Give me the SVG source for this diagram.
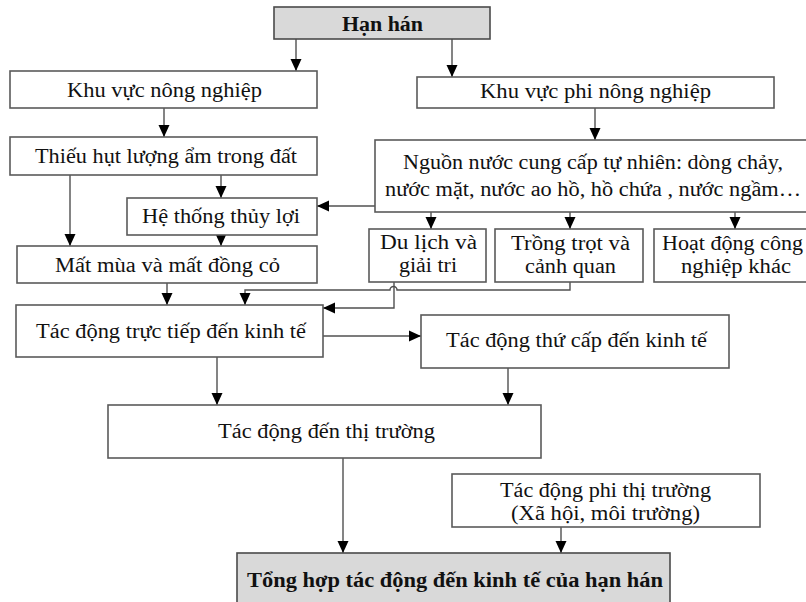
<svg xmlns="http://www.w3.org/2000/svg" width="806" height="602" viewBox="0 0 806 602">
  <style>
    .box { fill: #ffffff; stroke: #5a5a5a; stroke-width: 1.6; }
    .hl { fill: #d9d9d9; stroke: #4a4a4a; stroke-width: 1.6; }
    .t { font-family: "Liberation Serif", "Times New Roman", serif; font-size: 20.5px; fill: #111111; }
    .b { font-weight: bold; }
    .edge { fill: none; stroke: #505050; stroke-width: 1.4; }
  </style>
  <defs>
    <marker id="arrow" markerUnits="userSpaceOnUse" markerWidth="12" markerHeight="14" viewBox="0 0 12 14" refX="12" refY="7" orient="auto">
      <path d="M0,1.5 L12,7 L0,12.5 Z" fill="#000000"/>
    </marker>
  </defs>

  <rect width="806" height="602" fill="#ffffff"/>

  <!-- connectors -->
  <g id="connectors">
    <line class="edge" x1="296" y1="39" x2="296" y2="71" marker-end="url(#arrow)"/>
    <line class="edge" x1="452" y1="39" x2="452" y2="77" marker-end="url(#arrow)"/>
    <line class="edge" x1="164" y1="108" x2="164" y2="137" marker-end="url(#arrow)"/>
    <line class="edge" x1="595" y1="108" x2="595" y2="140" marker-end="url(#arrow)"/>
    <line class="edge" x1="70" y1="175" x2="70" y2="246" marker-end="url(#arrow)"/>
    <line class="edge" x1="221" y1="175" x2="221" y2="198" marker-end="url(#arrow)"/>
    <line class="edge" x1="375" y1="206" x2="317" y2="206" marker-end="url(#arrow)"/>
    <line class="edge" x1="221" y1="235" x2="221" y2="246" marker-end="url(#arrow)"/>
    <line class="edge" x1="431" y1="212" x2="431" y2="229" marker-end="url(#arrow)"/>
    <line class="edge" x1="570" y1="212" x2="570" y2="229" marker-end="url(#arrow)"/>
    <line class="edge" x1="735" y1="212" x2="735" y2="229" marker-end="url(#arrow)"/>
    <line class="edge" x1="167" y1="283" x2="167" y2="305" marker-end="url(#arrow)"/>
    <!-- Trồng trọt → trực tiếp, hopping over the Du lịch line -->
    <path class="edge" d="M570,282 V290 H397 A3.5,3.5 0 0 0 390,290 H245 V305" marker-end="url(#arrow)"/>
    <path class="edge" d="M394,282 V308 H323" marker-end="url(#arrow)"/>
    <line class="edge" x1="323" y1="336" x2="421" y2="336" marker-end="url(#arrow)"/>
    <line class="edge" x1="217" y1="357" x2="217" y2="405" marker-end="url(#arrow)"/>
    <line class="edge" x1="508" y1="368" x2="508" y2="405" marker-end="url(#arrow)"/>
    <line class="edge" x1="343" y1="458" x2="343" y2="553" marker-end="url(#arrow)"/>
    <line class="edge" x1="561" y1="527" x2="561" y2="553" marker-end="url(#arrow)"/>
  </g>

  <g id="han-han">
    <rect class="hl" x="274" y="7" width="216" height="32"/>
    <text class="t b" x="342" y="31" textLength="81" lengthAdjust="spacingAndGlyphs">Hạn hán</text>
  </g>

  <g id="nong-nghiep">
    <rect class="box" x="10" y="71" width="307" height="37"/>
    <text class="t" x="67" y="97" textLength="195" lengthAdjust="spacingAndGlyphs">Khu vực nông nghiệp</text>
  </g>

  <g id="phi-nong-nghiep">
    <rect class="box" x="417" y="77" width="357" height="31"/>
    <text class="t" x="480" y="98" textLength="231" lengthAdjust="spacingAndGlyphs">Khu vực phi nông nghiệp</text>
  </g>

  <g id="thieu-hut">
    <rect class="box" x="10" y="137" width="307" height="38"/>
    <text class="t" x="35" y="163" textLength="262" lengthAdjust="spacingAndGlyphs">Thiếu hụt lượng ẩm trong đất</text>
  </g>

  <g id="nguon-nuoc">
    <rect class="box" x="375" y="140" width="440" height="72"/>
    <text class="t" x="403" y="169" textLength="380" lengthAdjust="spacingAndGlyphs">Nguồn nước cung cấp tự nhiên: dòng chảy,</text>
    <text class="t" x="385" y="196" textLength="416" lengthAdjust="spacingAndGlyphs">nước mặt, nước ao hồ, hồ chứa , nước ngầm…</text>
  </g>

  <g id="thuy-loi">
    <rect class="box" x="127" y="198" width="190" height="37"/>
    <text class="t" x="142" y="223" textLength="158" lengthAdjust="spacingAndGlyphs">Hệ thống thủy lợi</text>
  </g>

  <g id="mat-mua">
    <rect class="box" x="17" y="246" width="300" height="37"/>
    <text class="t" x="55" y="272" textLength="225" lengthAdjust="spacingAndGlyphs">Mất mùa và mất đồng cỏ</text>
  </g>

  <g id="du-lich">
    <rect class="box" x="369" y="229" width="117" height="53"/>
    <text class="t" x="380" y="249" textLength="97" lengthAdjust="spacingAndGlyphs">Du lịch và</text>
    <text class="t" x="399" y="272" textLength="58" lengthAdjust="spacingAndGlyphs">giải tri</text>
  </g>

  <g id="trong-trot">
    <rect class="box" x="495" y="229" width="148" height="53"/>
    <text class="t" x="511" y="250" textLength="119" lengthAdjust="spacingAndGlyphs">Trồng trọt và</text>
    <text class="t" x="525" y="273" textLength="91" lengthAdjust="spacingAndGlyphs">cảnh quan</text>
  </g>

  <g id="cong-nghiep">
    <rect class="box" x="654" y="229" width="160" height="53"/>
    <text class="t" x="662" y="250" textLength="141" lengthAdjust="spacingAndGlyphs">Hoạt động công</text>
    <text class="t" x="681" y="273" textLength="110" lengthAdjust="spacingAndGlyphs">nghiệp khác</text>
  </g>

  <g id="truc-tiep">
    <rect class="box" x="16" y="305" width="307" height="52"/>
    <text class="t" x="36" y="338" textLength="270" lengthAdjust="spacingAndGlyphs">Tác động trực tiếp đến kinh tế</text>
  </g>

  <g id="thu-cap">
    <rect class="box" x="421" y="315" width="308" height="53"/>
    <text class="t" x="446" y="347" textLength="261" lengthAdjust="spacingAndGlyphs">Tác động thứ cấp đến kinh tế</text>
  </g>

  <g id="thi-truong">
    <rect class="box" x="108" y="405" width="433" height="53"/>
    <text class="t" x="218" y="438" textLength="217" lengthAdjust="spacingAndGlyphs">Tác động đến thị trường</text>
  </g>

  <g id="phi-thi-truong">
    <rect class="box" x="452" y="474" width="308" height="53"/>
    <text class="t" x="500" y="497" textLength="211" lengthAdjust="spacingAndGlyphs">Tác động phi thị trường</text>
    <text class="t" x="511" y="520" textLength="189" lengthAdjust="spacingAndGlyphs">(Xã hội, môi trường)</text>
  </g>

  <g id="tong-hop">
    <rect class="hl" x="237" y="553" width="433" height="60"/>
    <text class="t b" x="247" y="587" textLength="416" lengthAdjust="spacingAndGlyphs">Tổng hợp tác động đến kinh tế của hạn hán</text>
  </g>
</svg>
